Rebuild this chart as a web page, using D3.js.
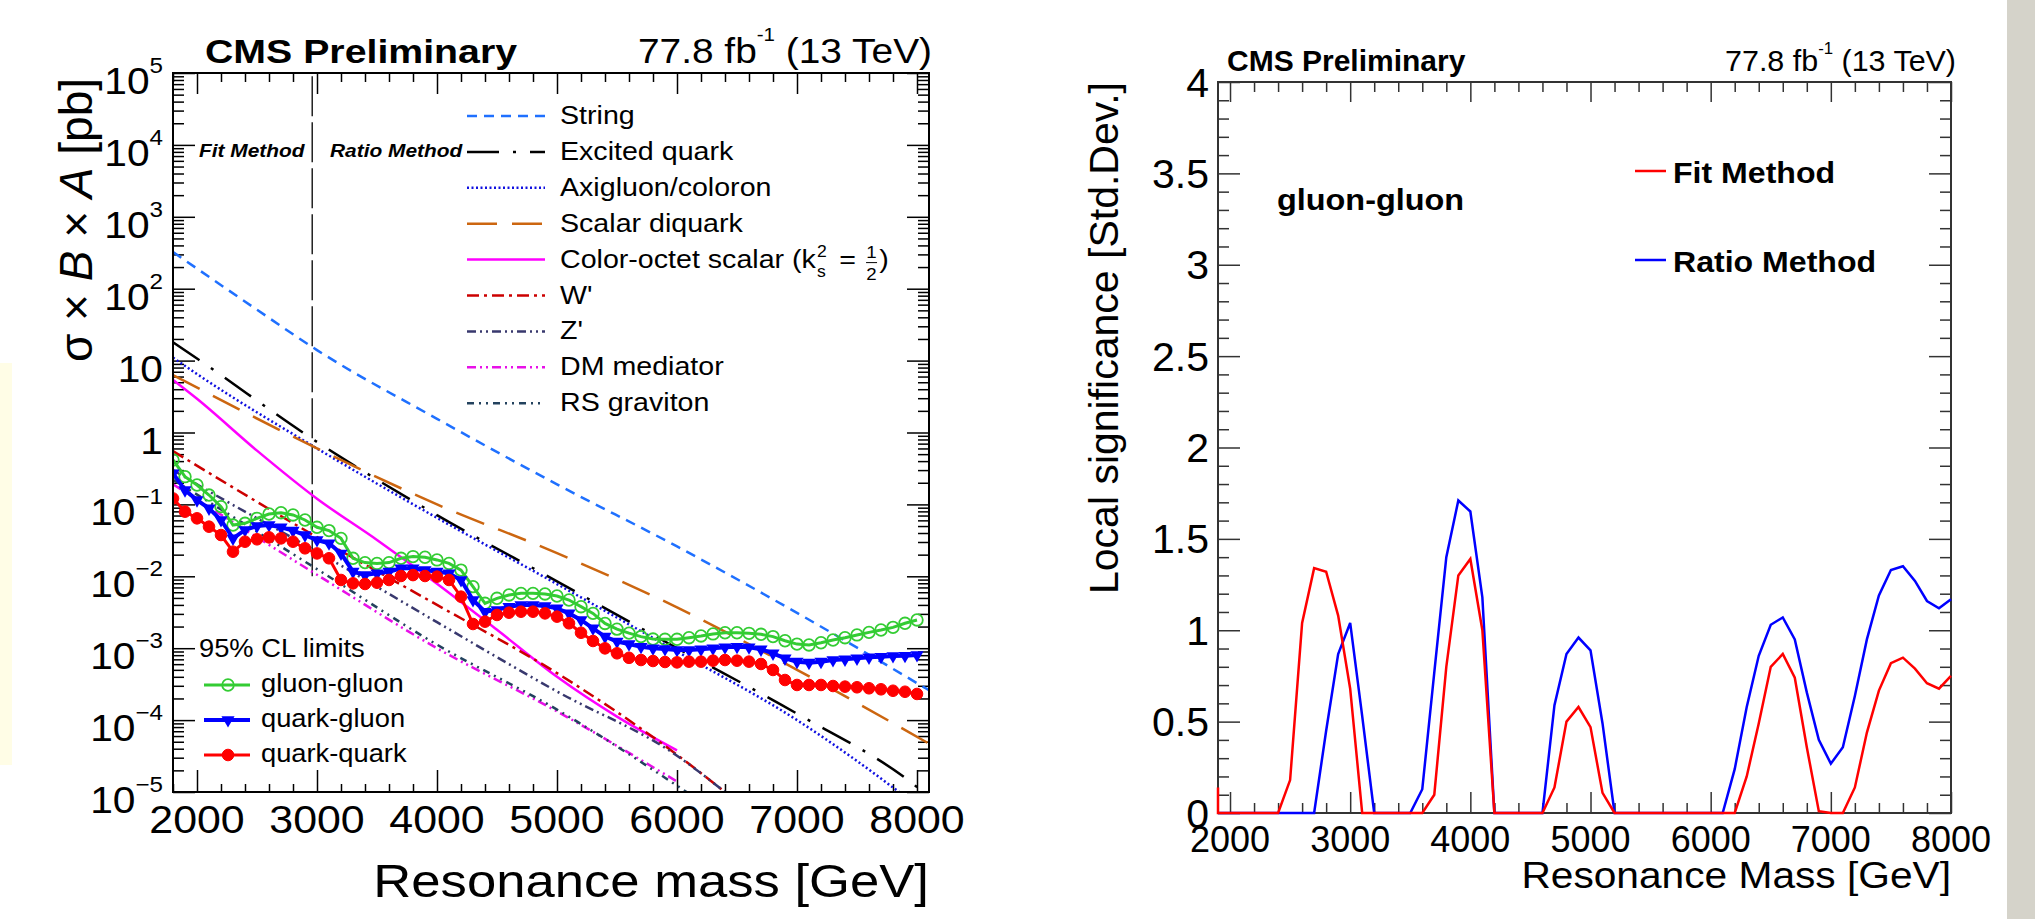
<!DOCTYPE html>
<html>
<head>
<meta charset="utf-8">
<title>Dijet resonance limits and local significance</title>
<script src="https://cdn.jsdelivr.net/npm/d3@7/dist/d3.min.js"></script>
<style>
  body { margin: 0; background: #fff; }
  svg { display: block; font-family: "Liberation Sans", Arial, Helvetica, sans-serif; }
</style>
</head>
<body>
<svg id="chart" width="2035" height="919"></svg>
<script>
// ---- left panel: 95% CL limits [pb], one value per 100 GeV ----
const limitMass = d3.range(1800, 8001, 100);
const gluonGluon = [
  0.415, 0.243, 0.186, 0.135, 0.0931, 0.0516, 0.0546, 0.0640, 0.0735, 0.0767,
  0.0713, 0.0607, 0.0480, 0.0432, 0.0337, 0.0178, 0.0155, 0.0151, 0.0155, 0.0178,
  0.0188, 0.0184, 0.0169, 0.0151, 0.0122, 0.00718, 0.00421, 0.00494, 0.00550, 0.00579,
  0.00579, 0.00568, 0.00532, 0.00468, 0.00378, 0.00305, 0.00221, 0.00184, 0.00162, 0.00145,
  0.00134, 0.00133, 0.00133, 0.00140, 0.00148, 0.00158, 0.00164, 0.00164, 0.00161, 0.00156,
  0.00145, 0.00127, 0.00114, 0.00111, 0.00119, 0.00130, 0.00140, 0.00153, 0.00166, 0.00179,
  0.00195, 0.00222, 0.00247
];
const quarkGluon = [
  0.270, 0.158, 0.115, 0.0881, 0.0607, 0.0337, 0.0441, 0.0501, 0.0518, 0.0480,
  0.0432, 0.0375, 0.0320, 0.0288, 0.0208, 0.0116, 0.0104, 0.0110, 0.0116, 0.0129,
  0.0129, 0.0122, 0.0116, 0.0110, 0.00889, 0.00468, 0.00322, 0.00340, 0.00378, 0.00399,
  0.00399, 0.00386, 0.00358, 0.00305, 0.00247, 0.00189, 0.00145, 0.00124, 0.00114, 0.00105,
  0.000995, 0.000975, 0.000944, 0.000944, 0.000964, 0.000995, 0.00103, 0.00105, 0.00103, 0.000964,
  0.000849, 0.000723, 0.000650, 0.000630, 0.000650, 0.000685, 0.000700, 0.000723, 0.000746, 0.000762,
  0.000780, 0.000787, 0.000804
];
const quarkQuark = [
  0.121, 0.0793, 0.0640, 0.0490, 0.0375, 0.0220, 0.0303, 0.0327, 0.0348, 0.0337,
  0.0303, 0.0245, 0.0208, 0.0178, 0.00889, 0.00798, 0.00782, 0.00815, 0.00889, 0.0101,
  0.0104, 0.0101, 0.00989, 0.00889, 0.00521, 0.00217, 0.00234, 0.00290, 0.00312, 0.00322,
  0.00322, 0.00305, 0.00275, 0.00222, 0.00164, 0.00126, 0.000995, 0.000849, 0.000735, 0.000685,
  0.000664, 0.000643, 0.000635, 0.000650, 0.000650, 0.000671, 0.000685, 0.000671, 0.000650, 0.000603,
  0.000498, 0.000361, 0.000308, 0.000308, 0.000308, 0.000298, 0.000292, 0.000286, 0.000277, 0.000268,
  0.000256, 0.000248, 0.000231
];

// model predictions [mass GeV, sigma x B x A pb]
const stringModel = [[1800, 324], [2500, 51], [3000, 14], [4000, 1.55], [5000, 0.19], [6000, 0.026], [7000, 0.0031], [8100, 0.00026]];
const excitedQuark = [[1800, 18], [2000, 10.7], [3000, 0.74], [4000, 0.071], [5000, 0.0085], [6000, 0.001], [7000, 0.000123], [8000, 0.0000117], [8100, 0.0000085]];
const axigluon = [[1800, 11], [2000, 6.5], [3000, 0.6], [4000, 0.065], [5000, 0.0078], [6000, 0.0009], [7000, 0.0001], [7500, 0.000027], [7850, 0.00001]];
const scalarDiquark = [[1800, 6.3], [3000, 0.6], [4000, 0.1], [5000, 0.021], [6000, 0.0037], [7000, 0.0005], [8100, 0.000047]];
const colorOctet = [[1800, 5.4], [2000, 2.95], [2500, 0.56], [3000, 0.12], [3500, 0.032], [4000, 0.0079], [4500, 0.0018], [5000, 0.0004], [5500, 0.000112], [6000, 0.000038]];
const wPrime = [[1800, 0.55], [3000, 0.035], [4000, 0.004], [5000, 0.00045], [6000, 0.000033], [6400, 0.00001]];
const zPrime = [[1800, 0.3], [2000, 0.19], [3000, 0.022], [4000, 0.0023], [5000, 0.00025], [6000, 0.000032], [6400, 0.00001]];
const dmMediator = [[1800, 0.19], [2000, 0.117], [3000, 0.0105], [4000, 0.001], [5000, 0.000132], [6000, 0.000014]];
const rsGraviton = [[1800, 0.22], [3000, 0.0126], [4000, 0.00112], [5000, 0.00014], [6100, 0.0000095]];

const modelNames = ["String", "Excited quark", "Axigluon/coloron", "Scalar diquark", "Color-octet scalar", "W'", "Z'", "DM mediator", "RS graviton"];
const limitNames = ["gluon-gluon", "quark-gluon", "quark-quark"];
const methodBoundary = 2960;
const massTicks = [2000, 3000, 4000, 5000, 6000, 7000, 8000];
const limitExponents = [-5, -4, -3, -2, -1, 0, 1, 2, 3, 4, 5];

// ---- right panel: local significance, gluon-gluon ----
const sigMass = [1900].concat(d3.range(1900, 8001, 100));
const fitSig = [0.14,
  0, 0, 0, 0, 0, 0, 0.18, 1.04, 1.34, 1.32,
  1.08, 0.68, 0, 0, 0, 0, 0, 0, 0.10, 0.80,
  1.30, 1.39, 1.00, 0, 0, 0, 0, 0, 0.14, 0.50,
  0.58, 0.47, 0.11, 0, 0, 0, 0, 0, 0, 0,
  0, 0, 0, 0, 0.20, 0.49, 0.80, 0.87, 0.74, 0.36,
  0.01, 0, 0, 0.14, 0.44, 0.67, 0.82, 0.85, 0.79, 0.71,
  0.68, 0.75
];
const ratioSig = [0,
  0, 0, 0, 0, 0, 0, 0, 0, 0, 0.45,
  0.87, 1.04, 0.53, 0, 0, 0, 0, 0.13, 0.77, 1.40,
  1.71, 1.65, 1.18, 0, 0, 0, 0, 0, 0.59, 0.87,
  0.96, 0.89, 0.49, 0, 0, 0, 0, 0, 0, 0,
  0, 0, 0, 0.24, 0.58, 0.86, 1.03, 1.07, 0.95, 0.66,
  0.40, 0.27, 0.36, 0.64, 0.95, 1.19, 1.33, 1.35, 1.27, 1.16,
  1.12, 1.17
];
const sigTicks = [0, 0.5, 1, 1.5, 2, 2.5, 3, 3.5, 4];
const sigTickLabels = ["0", "0.5", "1", "1.5", "2", "2.5", "3", "3.5", "4"];
const methodNames = ["Fit Method", "Ratio Method"];

const svg = d3.select("#chart");
svg.append("rect").attr("width", 2035).attr("height", 919).attr("fill", "#fff");
svg.append("rect").attr("x", 0).attr("y", 363).attr("width", 12).attr("height", 402).attr("fill", "#fffde6");
svg.append("rect").attr("x", 2007).attr("y", 0).attr("width", 28).attr("height", 919).attr("fill", "#d5d3ca");

// text stretched horizontally like the original raster
function label(parent, x, y, str, o = {}) {
  const g = parent.append("g").attr("transform", `translate(${x},${y}) scale(${o.sx || 1},1)`);
  const t = g.append("text")
    .attr("font-size", o.size || 26)
    .attr("text-anchor", o.anchor || "start")
    .attr("font-weight", o.weight || "normal")
    .attr("font-style", o.style || "normal")
    .attr("fill", o.fill || "#000");
  if (str) t.text(str);
  return t;
}

function ticks(parent, axis, transform, color, width) {
  parent.append("g").attr("transform", transform)
    .call(axis.tickFormat("").tickSizeOuter(0))
    .call((g) => g.select(".domain").remove())
    .call((g) => g.selectAll(".tick line").attr("stroke", color).attr("stroke-width", width));
}

// =================== left panel ===================
const L = { left: 173, right: 929, top: 73, bottom: 792 };
const xL = d3.scaleLinear().domain([1800, 8100]).range([L.left, L.right]);
const yL = d3.scaleLog().domain([1e-5, 1e5]).range([L.bottom, L.top]);
const left = svg.append("g");

left.append("clipPath").attr("id", "clip-left")
  .append("rect").attr("x", L.left).attr("y", L.top)
  .attr("width", L.right - L.left).attr("height", L.bottom - L.top);

const xMinorL = d3.range(1800, 8101, 200).filter((m) => m % 1000 !== 0);
const yMajorL = limitExponents.map((e) => Math.pow(10, e));
const yMinorL = d3.range(-5, 5).flatMap((k) => d3.range(2, 10).map((m) => m * Math.pow(10, k)));

ticks(left, d3.axisBottom(xL).tickValues(massTicks).tickSize(-22), `translate(0,${L.bottom})`, "#000", 1.5);
ticks(left, d3.axisBottom(xL).tickValues(xMinorL).tickSize(-8), `translate(0,${L.bottom})`, "#000", 1.5);
ticks(left, d3.axisTop(xL).tickValues(massTicks).tickSize(-21), `translate(0,${L.top})`, "#000", 1.5);
ticks(left, d3.axisTop(xL).tickValues(xMinorL).tickSize(-9), `translate(0,${L.top})`, "#000", 1.5);
ticks(left, d3.axisLeft(yL).tickValues(yMajorL).tickSize(-22), `translate(${L.left},0)`, "#000", 1.5);
ticks(left, d3.axisLeft(yL).tickValues(yMinorL).tickSize(-11), `translate(${L.left},0)`, "#000", 1.5);
ticks(left, d3.axisRight(yL).tickValues(yMajorL).tickSize(-22), `translate(${L.right},0)`, "#000", 1.5);
ticks(left, d3.axisRight(yL).tickValues(yMinorL).tickSize(-11), `translate(${L.right},0)`, "#000", 1.5);

const modelStyles = [
  { data: stringModel, color: "#1f70ff", dash: "10,7" },
  { data: excitedQuark, color: "#000000", dash: "32,14,3,14" },
  { data: axigluon, color: "#1010e0", dash: "2,2.5" },
  { data: scalarDiquark, color: "#cc6610", dash: "30,15" },
  { data: colorOctet, color: "#ff00ff", dash: null },
  { data: wPrime, color: "#cc0000", dash: "12,5,3,5" },
  { data: zPrime, color: "#38386e", dash: "9,4,2,4,2,4" },
  { data: dmMediator, color: "#e810e8", dash: "9,4,2,4,2,4" },
  { data: rsGraviton, color: "#23425e", dash: "7,5,2,5,2,5" }
];

const plotL = left.append("g").attr("clip-path", "url(#clip-left)");
const modelLine = d3.line().x((d) => xL(d[0])).y((d) => yL(d[1])).curve(d3.curveMonotoneX);

plotL.append("path")
  .attr("d", d3.line()([[xL(methodBoundary), yL(1e-2)], [xL(methodBoundary), yL(1e5)]]))
  .attr("stroke", "#000").attr("stroke-width", 1.3).attr("stroke-dasharray", "40,6");

plotL.selectAll("path.model")
  .data(modelStyles)
  .join("path")
  .attr("class", "model")
  .attr("d", (d) => modelLine(d.data))
  .attr("fill", "none")
  .attr("stroke", (d) => d.color)
  .attr("stroke-width", 2.5)
  .attr("stroke-dasharray", (d) => d.dash);

const limitSeries = [
  { name: limitNames[0], values: gluonGluon, color: "#33cc33", width: 3, marker: "open" },
  { name: limitNames[1], values: quarkGluon, color: "#0000ff", width: 4, marker: "tri" },
  { name: limitNames[2], values: quarkQuark, color: "#ff0000", width: 3, marker: "dot" }
];

function marker(parent, type, color, x, y) {
  if (type === "tri") {
    parent.append("path")
      .attr("d", d3.symbol(d3.symbolTriangle, 75)())
      .attr("transform", `translate(${x},${y}) rotate(180)`)
      .attr("fill", color);
  } else {
    parent.append("circle").attr("cx", x).attr("cy", y).attr("r", 5.8)
      .attr("fill", type === "dot" ? color : "none")
      .attr("stroke", color).attr("stroke-width", type === "dot" ? 1 : 1.8);
  }
}

const limitLine = d3.line().x((d, i) => xL(limitMass[i])).y((d) => yL(d));
limitSeries.forEach((s) => {
  const g = plotL.append("g");
  g.append("path").attr("d", limitLine(s.values))
    .attr("fill", "none").attr("stroke", s.color).attr("stroke-width", s.width);
  s.values.forEach((v, i) => marker(g, s.marker, s.color, xL(limitMass[i]), yL(v)));
});

left.append("rect")
  .attr("x", L.left).attr("y", L.top)
  .attr("width", L.right - L.left).attr("height", L.bottom - L.top)
  .attr("fill", "none").attr("stroke", "#000").attr("stroke-width", 2);

// tick labels
massTicks.forEach((m) => label(left, xL(m), 833, String(m), { size: 39, sx: 1.1, anchor: "middle" }));
limitExponents.forEach((e) => {
  const t = label(left, 163, yL(Math.pow(10, e)) + 21, null, { size: 37, sx: 1.1, anchor: "end" });
  if (e === 0) t.text("1");
  else if (e === 1) t.text("10");
  else {
    t.append("tspan").text("10");
    t.append("tspan").attr("font-size", 22).attr("dy", -21).text(e < 0 ? "\u2212" + (-e) : String(e));
  }
});

// axis titles
label(left, L.right, 897, "Resonance mass [GeV]", { size: 47, sx: 1.12, anchor: "end" });
const yTitle = left.append("text")
  .attr("transform", "translate(92,220) rotate(-90)")
  .attr("text-anchor", "middle").attr("font-size", 46);
yTitle.append("tspan").text("\u03c3 \u00d7 ");
yTitle.append("tspan").attr("font-style", "italic").text("B");
yTitle.append("tspan").text(" \u00d7 ");
yTitle.append("tspan").attr("font-style", "italic").text("A");
yTitle.append("tspan").text(" [pb]");

// header
label(left, 205, 63, "CMS Preliminary", { size: 33, sx: 1.19, weight: "bold" });
const lumiL = label(left, 932, 63, null, { size: 36, sx: 1.08, anchor: "end" });
lumiL.append("tspan").text("77.8 fb");
lumiL.append("tspan").attr("font-size", 19).attr("dy", -22).text("-1");
lumiL.append("tspan").attr("dy", 22).text(" (13 TeV)");

label(left, 199, 157, "Fit Method", { size: 19, sx: 1.1, weight: "bold", style: "italic" });
label(left, 330, 157, "Ratio Method", { size: 19, sx: 1.1, weight: "bold", style: "italic" });

// model legend
modelStyles.forEach((s, i) => {
  const y = 116 + i * 35.9;
  left.append("line").attr("x1", 467).attr("x2", 545).attr("y1", y).attr("y2", y)
    .attr("stroke", s.color).attr("stroke-width", 2.5).attr("stroke-dasharray", s.dash);
  if (i !== 4) {
    label(left, 560, y + 8, modelNames[i], { size: 26, sx: 1.1 });
    return;
  }
  // Color-octet scalar (k_s^2 = 1/2)
  const g = left.append("g").attr("transform", `translate(560,${y + 8}) scale(1.1,1)`);
  const base = g.append("text").attr("font-size", 26).text(modelNames[i] + " (k");
  let w = base.node().getComputedTextLength();
  g.append("text").attr("x", w + 1).attr("y", -11).attr("font-size", 16).text("2");
  g.append("text").attr("x", w + 1).attr("y", 9).attr("font-size", 16).text("s");
  w += 14;
  const eq = g.append("text").attr("x", w).attr("font-size", 26).text("\u00a0=\u00a0");
  w += eq.node().getComputedTextLength() + 1;
  g.append("text").attr("x", w + 6).attr("y", -10).attr("font-size", 17).attr("text-anchor", "middle").text("1");
  g.append("line").attr("x1", w + 1).attr("x2", w + 11).attr("y1", -5).attr("y2", -5).attr("stroke", "#000").attr("stroke-width", 1);
  g.append("text").attr("x", w + 6).attr("y", 12).attr("font-size", 17).attr("text-anchor", "middle").text("2");
  g.append("text").attr("x", w + 13).attr("font-size", 26).text(")");
});

// limit legend
label(left, 199, 657, "95% CL limits", { size: 26, sx: 1.05 });
limitSeries.forEach((s, i) => {
  const y = 685 + i * 35;
  left.append("line").attr("x1", 204).attr("x2", 250).attr("y1", y).attr("y2", y)
    .attr("stroke", s.color).attr("stroke-width", s.width);
  marker(left, s.marker, s.color, 228, y);
  label(left, 261, y + 7, s.name, { size: 26, sx: 1.05 });
});

// =================== right panel ===================
const R = { left: 1218, right: 1951, top: 82, bottom: 813 };
const xR = d3.scaleLinear().domain([1900, 8000]).range([R.left, R.right]);
const yR = d3.scaleLinear().domain([0, 4]).range([R.bottom, R.top]);
const right = svg.append("g");
const frameR = "#333";

const xMinorR = d3.range(2200, 8000, 200).filter((m) => m % 1000 !== 0);
const yMinorR = d3.range(0, 41).filter((i) => i % 5 !== 0).map((i) => i / 10);

ticks(right, d3.axisBottom(xR).tickValues(massTicks).tickSize(-21), `translate(0,${R.bottom})`, frameR, 1.5);
ticks(right, d3.axisBottom(xR).tickValues(xMinorR).tickSize(-10), `translate(0,${R.bottom})`, frameR, 1.5);
ticks(right, d3.axisTop(xR).tickValues(massTicks).tickSize(-20), `translate(0,${R.top})`, frameR, 1.5);
ticks(right, d3.axisTop(xR).tickValues(xMinorR).tickSize(-10), `translate(0,${R.top})`, frameR, 1.5);
ticks(right, d3.axisLeft(yR).tickValues(sigTicks).tickSize(-22), `translate(${R.left},0)`, frameR, 1.5);
ticks(right, d3.axisLeft(yR).tickValues(yMinorR).tickSize(-11), `translate(${R.left},0)`, frameR, 1.5);
ticks(right, d3.axisRight(yR).tickValues(sigTicks).tickSize(-22), `translate(${R.right},0)`, frameR, 1.5);
ticks(right, d3.axisRight(yR).tickValues(yMinorR).tickSize(-11), `translate(${R.right},0)`, frameR, 1.5);

right.append("rect")
  .attr("x", R.left).attr("y", R.top)
  .attr("width", R.right - R.left).attr("height", R.bottom - R.top)
  .attr("fill", "none").attr("stroke", frameR).attr("stroke-width", 2);

const sigLine = d3.line().x((d, i) => xR(sigMass[i])).y((d) => yR(d));
right.append("path").attr("d", sigLine(ratioSig))
  .attr("fill", "none").attr("stroke", "#0000ff").attr("stroke-width", 2.5);
right.append("path").attr("d", sigLine(fitSig))
  .attr("fill", "none").attr("stroke", "#ff0000").attr("stroke-width", 2.5);

sigTicks.forEach((v, i) => label(right, 1209, yR(v) + 14.5, sigTickLabels[i], { size: 41, anchor: "end" }));
massTicks.forEach((m) => label(right, xR(m), 852, String(m), { size: 36, anchor: "middle" }));

label(right, R.right, 888, "Resonance Mass [GeV]", { size: 37, sx: 1.1, anchor: "end" });
right.append("text")
  .attr("transform", `translate(1118,${R.top}) rotate(-90)`)
  .attr("text-anchor", "end").attr("font-size", 41)
  .text("Local significance [Std.Dev.]");

label(right, 1227, 71, "CMS Preliminary", { size: 30, weight: "bold" });
const lumiR = label(right, 1956, 71, null, { size: 29, sx: 1.05, anchor: "end" });
lumiR.append("tspan").text("77.8 fb");
lumiR.append("tspan").attr("font-size", 16).attr("dy", -17).text("-1");
lumiR.append("tspan").attr("dy", 17).text(" (13 TeV)");

label(right, 1277, 210, "gluon-gluon", { size: 30, sx: 1.08, weight: "bold" });
[{ color: "#ff0000", y: 171 }, { color: "#0000ff", y: 260 }].forEach((m, i) => {
  right.append("line").attr("x1", 1635).attr("x2", 1666).attr("y1", m.y).attr("y2", m.y)
    .attr("stroke", m.color).attr("stroke-width", 2.5);
  label(right, 1673, m.y + 12, methodNames[i], { size: 30, sx: 1.07, weight: "bold" });
});
</script>
</body>
</html>
